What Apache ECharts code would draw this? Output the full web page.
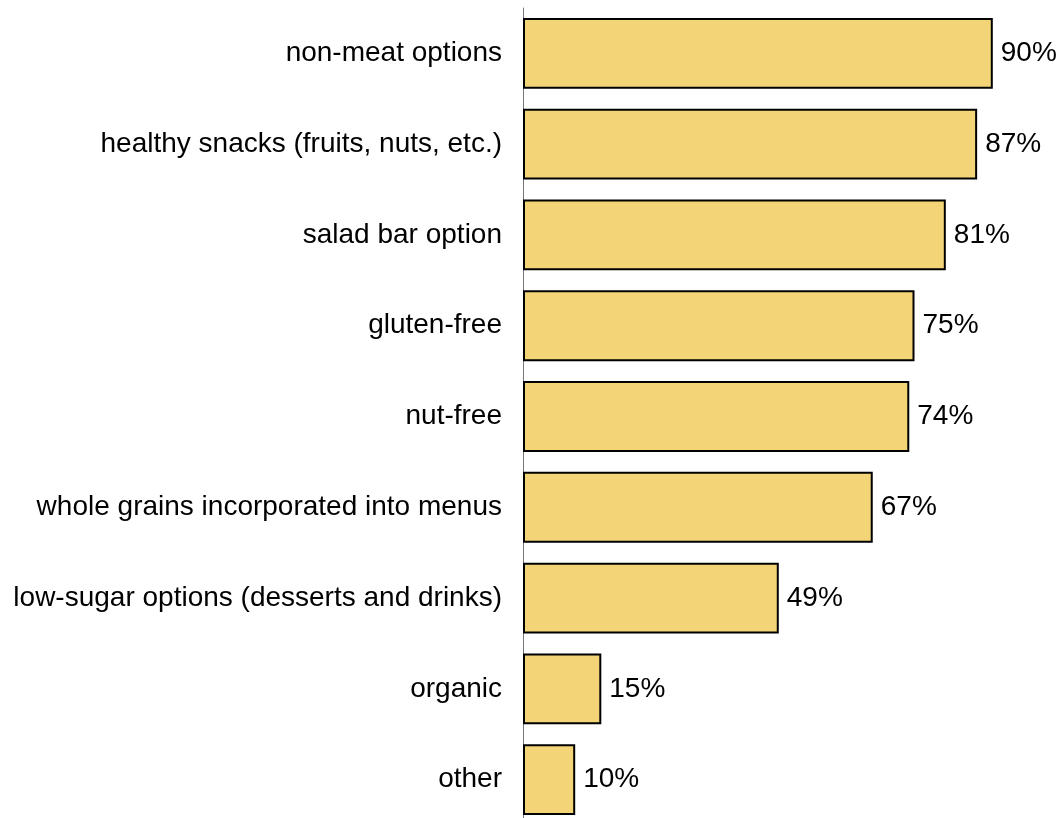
<!DOCTYPE html>
<html>
<head>
<meta charset="utf-8">
<script src="https://cdn.jsdelivr.net/npm/echarts@6/dist/echarts.min.js"></script>
<style>
  html, body { margin: 0; padding: 0; background: #fff; overflow: hidden; }
  #chart { width: 1059px; height: 826px; }
</style>
</head>
<body>
<div id="chart"></div>
<script>
// Options offered on menus, share of respondents (%)
const categories = [
  'non-meat options',
  'healthy snacks (fruits, nuts, etc.)',
  'salad bar option',
  'gluten-free',
  'nut-free',
  'whole grains incorporated into menus',
  'low-sugar options (desserts and drinks)',
  'organic',
  'other'
];
const values = [90, 87, 81, 75, 74, 67, 49, 15, 10];

const chart = echarts.init(document.getElementById('chart'), null, { renderer: 'canvas' });
const font = 'Liberation Sans, Arial, sans-serif';

// The last row runs slightly past the visible window, so the plot is a bit taller than the page
chart.setOption({
  animation: false,
  grid: { left: 523, right: 14, top: 8, bottom: 1, containLabel: false },
  xAxis: {
    type: 'value',
    min: 0,
    max: 100,
    show: false
  },
  yAxis: {
    type: 'category',
    data: categories,
    inverse: true,
    axisLine: { show: true, lineStyle: { color: '#777', width: 1 } },
    axisTick: { show: false },
    axisLabel: { color: '#000', fontSize: 28, fontFamily: font, margin: 21 }
  },
  series: [{
    type: 'bar',
    data: values,
    barCategoryGap: '22%',
    itemStyle: { color: '#F3D577', borderColor: '#000', borderWidth: 2 },
    label: {
      show: true,
      position: 'right',
      distance: 8,
      formatter: '{c}%',
      color: '#000',
      fontSize: 28,
      fontFamily: font
    }
  }]
});
</script>
</body>
</html>
